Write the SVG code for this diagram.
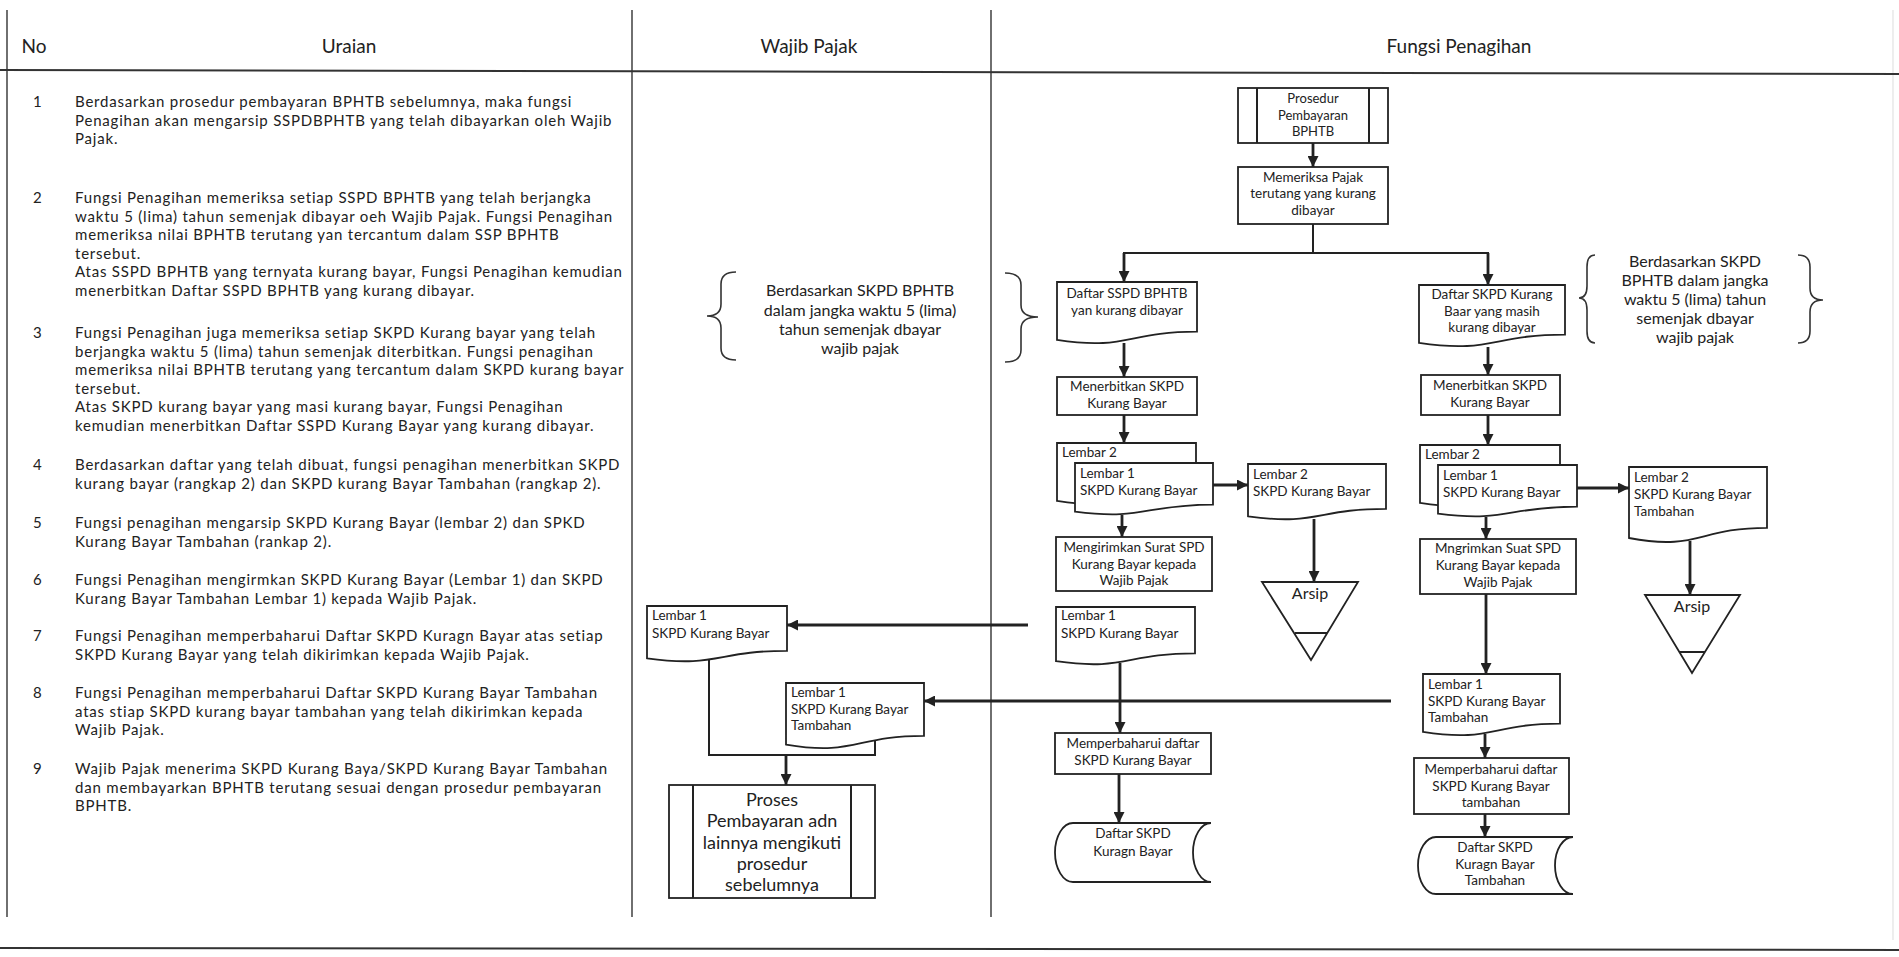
<svg xmlns="http://www.w3.org/2000/svg" width="1899" height="957" viewBox="0 0 1899 957">
<style>
.t{font-family:Lato,"Liberation Sans",sans-serif;fill:#222}
.u{font-size:15px;letter-spacing:0.8px}
.h{font-size:19px}
.n{font-size:13.5px}
.s{font-size:13px}
.b{font-size:16px}
.p{font-size:18px}
.c{text-anchor:middle}
.box{fill:#fff;stroke:#222;stroke-width:1.8}
.grid{stroke:#333;stroke-width:1.4;fill:none}
.arr{stroke:#222;stroke-width:2.8;fill:none;marker-end:url(#ah)}
.ln{stroke:#222;stroke-width:2;fill:none}
.br{stroke:#333;stroke-width:1.6;fill:none}
</style>
<defs>
<marker id="ah" viewBox="0 0 10 10" refX="10" refY="5" markerWidth="11" markerHeight="11" markerUnits="userSpaceOnUse" orient="auto"><path d="M0,0 L10,5 L0,10 z" fill="#222"/></marker>
</defs>
<rect width="1899" height="957" fill="#fff"/>
<g id="frame">
<line class="grid" x1="7" y1="10" x2="7" y2="917"/>
<line class="grid" x1="632" y1="10" x2="632" y2="917"/>
<line class="grid" x1="991" y1="10" x2="991" y2="917"/>
<line x1="1893" y1="10" x2="1893" y2="940" stroke="#e2e2e2" stroke-width="1.2"/>
<line x1="0" y1="70" x2="1899" y2="74" stroke="#333" stroke-width="2"/>
<line x1="0" y1="948" x2="1899" y2="950" stroke="#333" stroke-width="2"/>
</g>
<g id="header">
<text class="t h c" x="34" y="53">No</text>
<text class="t h c" x="349" y="53">Uraian</text>
<text class="t h c" x="809" y="53">Wajib Pajak</text>
<text class="t h c" x="1459" y="53">Fungsi Penagihan</text>
</g>
<g id="uraian" class="t u">
<text x="33" y="107">1</text>
<text x="75" y="107">Berdasarkan prosedur pembayaran BPHTB sebelumnya, maka fungsi</text>
<text x="75" y="125.5">Penagihan akan mengarsip SSPDBPHTB yang telah dibayarkan oleh Wajib</text>
<text x="75" y="144">Pajak.</text>
<text x="33" y="203">2</text>
<text x="75" y="203">Fungsi Penagihan memeriksa setiap SSPD BPHTB yang telah berjangka</text>
<text x="75" y="221.5">waktu 5 (lima) tahun semenjak dibayar oeh Wajib Pajak. Fungsi Penagihan</text>
<text x="75" y="240">memeriksa nilai BPHTB terutang yan tercantum dalam SSP BPHTB</text>
<text x="75" y="258.5">tersebut.</text>
<text x="75" y="277">Atas SSPD BPHTB yang ternyata kurang bayar, Fungsi Penagihan kemudian</text>
<text x="75" y="295.5">menerbitkan Daftar SSPD BPHTB  yang kurang dibayar.</text>
<text x="33" y="338">3</text>
<text x="75" y="338">Fungsi Penagihan juga memeriksa setiap SKPD Kurang bayar yang telah</text>
<text x="75" y="356.5">berjangka waktu 5 (lima) tahun semenjak diterbitkan. Fungsi penagihan</text>
<text x="75" y="375">memeriksa nilai BPHTB terutang yang tercantum dalam SKPD kurang bayar</text>
<text x="75" y="393.5">tersebut.</text>
<text x="75" y="412">Atas SKPD kurang bayar yang masi kurang bayar, Fungsi Penagihan</text>
<text x="75" y="430.5">kemudian menerbitkan Daftar SSPD Kurang Bayar yang kurang dibayar.</text>
<text x="33" y="470">4</text>
<text x="75" y="470">Berdasarkan daftar yang telah dibuat, fungsi penagihan menerbitkan SKPD</text>
<text x="75" y="488.5">kurang bayar (rangkap 2) dan SKPD kurang Bayar Tambahan (rangkap 2).</text>
<text x="33" y="528">5</text>
<text x="75" y="528">Fungsi penagihan mengarsip SKPD Kurang Bayar (lembar 2) dan SPKD</text>
<text x="75" y="546.5">Kurang Bayar Tambahan (rankap 2).</text>
<text x="33" y="585">6</text>
<text x="75" y="585">Fungsi Penagihan mengirmkan SKPD Kurang Bayar (Lembar 1) dan SKPD</text>
<text x="75" y="603.5">Kurang Bayar Tambahan Lembar 1) kepada Wajib Pajak.</text>
<text x="33" y="641">7</text>
<text x="75" y="641">Fungsi Penagihan memperbaharui Daftar SKPD Kuragn Bayar atas setiap</text>
<text x="75" y="659.5">SKPD Kurang Bayar yang telah dikirimkan kepada Wajib Pajak.</text>
<text x="33" y="698">8</text>
<text x="75" y="698">Fungsi Penagihan memperbaharui Daftar SKPD Kurang Bayar Tambahan</text>
<text x="75" y="716.5">atas stiap SKPD kurang bayar tambahan yang telah dikirimkan kepada</text>
<text x="75" y="735">Wajib Pajak.</text>
<text x="33" y="774">9</text>
<text x="75" y="774">Wajib Pajak menerima SKPD Kurang Baya/SKPD Kurang Bayar Tambahan</text>
<text x="75" y="792.5">dan membayarkan BPHTB terutang sesuai dengan prosedur pembayaran</text>
<text x="75" y="811">BPHTB.</text>
</g>
<g id="connectors">
<line class="arr" x1="1313" y1="143" x2="1313" y2="167"/>
<line class="ln" x1="1313" y1="224" x2="1313" y2="253" stroke-width="1.6"/>
<line class="ln" x1="1123" y1="253" x2="1489" y2="253" stroke-width="2.8"/>
<line class="arr" x1="1124" y1="253" x2="1124" y2="282"/>
<line class="arr" x1="1488" y1="253" x2="1488" y2="285"/>
<line class="arr" x1="1124" y1="343" x2="1124" y2="377"/>
<line class="arr" x1="1488" y1="347" x2="1488" y2="375"/>
<line class="arr" x1="1124" y1="415" x2="1124" y2="443"/>
<line class="arr" x1="1488" y1="415" x2="1488" y2="445"/>
<line class="arr" x1="1213" y1="485" x2="1248" y2="485"/>
<line class="arr" x1="1314" y1="519" x2="1314" y2="582"/>
<line class="arr" x1="1122" y1="515" x2="1122" y2="537"/>
<line class="arr" x1="1577" y1="488" x2="1629" y2="488"/>
<line class="arr" x1="1690" y1="541" x2="1690" y2="595"/>
<line class="arr" x1="1486" y1="517" x2="1486" y2="539"/>
<line class="arr" x1="1486" y1="594" x2="1486" y2="674"/>
<line class="arr" x1="1028" y1="625" x2="787" y2="625"/>
<line class="arr" x1="1391" y1="701" x2="924" y2="701"/>
<line class="arr" x1="1120" y1="663" x2="1120" y2="733"/>
<line class="arr" x1="1119" y1="774" x2="1119" y2="823"/>
<line class="arr" x1="1485" y1="734" x2="1485" y2="758"/>
<line class="arr" x1="1485" y1="814" x2="1485" y2="837"/>
<polyline class="ln" points="709,660 709,755 875,755 875,741"/>
<line class="arr" x1="786" y1="755" x2="786" y2="785"/>
</g>
<g id="n-prosedur">
<rect class="box" x="1238" y="88" width="150" height="55"/>
<line class="ln" x1="1257" y1="88" x2="1257" y2="143" stroke-width="1.8"/>
<line class="ln" x1="1369" y1="88" x2="1369" y2="143" stroke-width="1.8"/>
<text class="t s c" x="1313" y="103">Prosedur</text>
<text class="t s c" x="1313" y="120">Pembayaran</text>
<text class="t s c" x="1313" y="136">BPHTB</text>
</g>
<g id="n-memeriksa">
<rect class="box" x="1238" y="167" width="150" height="57"/>
<text class="t n c" x="1313" y="182">Memeriksa Pajak</text>
<text class="t n c" x="1313" y="198">terutang yang kurang</text>
<text class="t n c" x="1313" y="215">dibayar</text>
</g>
<g id="n-daftar-sspd">
<path class="box" d="M1057,282 H1197 V331.6 C1127,331.6 1127,350.7 1057,339.9 Z"/>
<text class="t n c" x="1127" y="298">Daftar SSPD BPHTB</text>
<text class="t n c" x="1127" y="315">yan kurang dibayar</text>
</g>
<g id="n-daftar-skpd">
<path class="box" d="M1419,285 H1565 V334.6 C1492,334.6 1492,353.7 1419,342.9 Z"/>
<text class="t n c" x="1492" y="299">Daftar SKPD Kurang</text>
<text class="t n c" x="1492" y="316">Baar yang masih</text>
<text class="t n c" x="1492" y="332">kurang dibayar</text>
</g>
<g id="n-brace-wp">
<path class="br" d="M736,272 Q721,272 721,284 L721,304 Q721,316 707,316 Q721,316 721,328 L721,348 Q721,360 736,360"/>
<path class="br" d="M1005,273 Q1021,273 1021,285 L1021,305 Q1021,317 1038,317 Q1021,317 1021,329 L1021,350 Q1021,362 1005,362"/>
<text class="t b c" x="860" y="296">Berdasarkan SKPD BPHTB</text>
<text class="t b c" x="860" y="315.5">dalam jangka waktu 5 (lima)</text>
<text class="t b c" x="860" y="335">tahun semenjak dbayar</text>
<text class="t b c" x="860" y="354">wajib pajak</text>
</g>
<g id="n-brace-fp">
<path class="br" d="M1595,255 Q1587,255 1587,267 L1587,286 Q1587,298 1579,298 Q1587,298 1587,310 L1587,331 Q1587,343 1595,343"/>
<path class="br" d="M1798,255 Q1810,255 1810,267 L1810,288 Q1810,300 1823,300 Q1810,300 1810,312 L1810,331 Q1810,343 1798,343"/>
<text class="t b c" x="1695" y="267">Berdasarkan SKPD</text>
<text class="t b c" x="1695" y="286">BPHTB dalam jangka</text>
<text class="t b c" x="1695" y="305">waktu 5 (lima) tahun</text>
<text class="t b c" x="1695" y="324">semenjak dbayar</text>
<text class="t b c" x="1695" y="343">wajib pajak</text>
</g>
<g id="n-menerbitkan-1">
<rect class="box" x="1057" y="377" width="140" height="38"/>
<text class="t n c" x="1127" y="391">Menerbitkan SKPD</text>
<text class="t n c" x="1127" y="408">Kurang Bayar</text>
</g>
<g id="n-menerbitkan-2">
<rect class="box" x="1421" y="375" width="139" height="40"/>
<text class="t n c" x="1490" y="390">Menerbitkan SKPD</text>
<text class="t n c" x="1490" y="407">Kurang Bayar</text>
</g>
<g id="n-lembar-kb">
<path class="box" d="M1057,443 H1196 V492.6 C1126.5,492.6 1126.5,511.7 1057,500.9 Z"/>
<text class="t n" x="1062" y="457">Lembar 2</text>
<path class="box" d="M1075,463 H1213 V504.6 C1144,504.6 1144,520.6 1075,511.6 Z"/>
<text class="t n" x="1080" y="478">Lembar 1</text>
<text class="t n" x="1080" y="495">SKPD Kurang Bayar</text>
</g>
<g id="n-lembar2-kb">
<path class="box" d="M1248,464 H1386 V508.8 C1317,508.8 1317,526 1248,516.3 Z"/>
<text class="t n" x="1253" y="479">Lembar 2</text>
<text class="t n" x="1253" y="496">SKPD Kurang Bayar</text>
</g>
<g id="n-arsip-1">
<path class="box" d="M1262,582 H1358 L1311,660 Z"/>
<line class="ln" x1="1295" y1="633" x2="1327" y2="633" stroke-width="1.6"/>
<text class="t b c" x="1310" y="599">Arsip</text>
</g>
<g id="n-mengirimkan">
<rect class="box" x="1056" y="537" width="156" height="54"/>
<text class="t n c" x="1134" y="552">Mengirimkan Surat SPD</text>
<text class="t n c" x="1134" y="569">Kurang Bayar kepada</text>
<text class="t n c" x="1134" y="585">Wajib Pajak</text>
</g>
<g id="n-lembar1-fp">
<path class="box" d="M1056,607 H1195 V653.4 C1125.5,653.4 1125.5,671.2 1056,661.2 Z"/>
<text class="t n" x="1061" y="620">Lembar 1</text>
<text class="t n" x="1061" y="638">SKPD Kurang Bayar</text>
</g>
<g id="n-lembar1-wp">
<path class="box" d="M647,606 H787 V650.8 C717,650.8 717,668 647,658.3 Z"/>
<text class="t n" x="652" y="620">Lembar 1</text>
<text class="t n" x="652" y="638">SKPD Kurang Bayar</text>
</g>
<g id="n-lembar1-tambahan-wp">
<path class="box" d="M786,683 H924 V735.8 C855,735.8 855,756.1 786,744.6 Z"/>
<text class="t n" x="791" y="697">Lembar 1</text>
<text class="t n" x="791" y="714">SKPD Kurang Bayar</text>
<text class="t n" x="791" y="730">Tambahan</text>
</g>
<g id="n-proses">
<rect class="box" x="669" y="785" width="206" height="113"/>
<line class="ln" x1="693" y1="785" x2="693" y2="898" stroke-width="1.8"/>
<line class="ln" x1="851" y1="785" x2="851" y2="898" stroke-width="1.8"/>
<text class="t p c" x="772" y="806">Proses</text>
<text class="t p c" x="772" y="827">Pembayaran adn</text>
<text class="t p c" x="772" y="849">lainnya mengikuti</text>
<text class="t p c" x="772" y="870">prosedur</text>
<text class="t p c" x="772" y="891">sebelumnya</text>
</g>
<g id="n-memperbaharui-1">
<rect class="box" x="1055" y="733" width="156" height="41"/>
<text class="t n c" x="1133" y="748">Memperbaharui daftar</text>
<text class="t n c" x="1133" y="765">SKPD Kurang Bayar</text>
</g>
<g id="n-daftar-kb">
<path class="box" d="M1073,823 A18,29.5 0 0 0 1073,882 L1211,882 A18,29.5 0 0 1 1211,823 Z"/>
<text class="t n c" x="1133" y="838">Daftar SKPD</text>
<text class="t n c" x="1133" y="856">Kuragn Bayar</text>
</g>
<g id="n-lembar-kbt">
<path class="box" d="M1420,445 H1560 V494.6 C1490,494.6 1490,513.7 1420,502.9 Z"/>
<text class="t n" x="1425" y="459">Lembar 2</text>
<path class="box" d="M1438,465 H1577 V506.6 C1507.5,506.6 1507.5,522.6 1438,513.6 Z"/>
<text class="t n" x="1443" y="480">Lembar 1</text>
<text class="t n" x="1443" y="497">SKPD Kurang Bayar</text>
</g>
<g id="n-lembar2-kbt">
<path class="box" d="M1629,467 H1767 V527.8 C1698,527.8 1698,551.2 1629,538 Z"/>
<text class="t n" x="1634" y="482">Lembar 2</text>
<text class="t n" x="1634" y="499">SKPD Kurang Bayar</text>
<text class="t n" x="1634" y="516">Tambahan</text>
</g>
<g id="n-arsip-2">
<path class="box" d="M1645,595 H1740 L1692,673 Z"/>
<line class="ln" x1="1679" y1="652" x2="1705" y2="652" stroke-width="1.6"/>
<text class="t b c" x="1692" y="612">Arsip</text>
</g>
<g id="n-mngrimkan">
<rect class="box" x="1420" y="539" width="156" height="55"/>
<text class="t n c" x="1498" y="553">Mngrimkan Suat SPD</text>
<text class="t n c" x="1498" y="570">Kurang Bayar kepada</text>
<text class="t n c" x="1498" y="587">Wajib Pajak</text>
</g>
<g id="n-lembar1-tambahan-fp">
<path class="box" d="M1423,674 H1560 V723.6 C1491.5,723.6 1491.5,742.7 1423,731.9 Z"/>
<text class="t n" x="1428" y="689">Lembar 1</text>
<text class="t n" x="1428" y="706">SKPD Kurang Bayar</text>
<text class="t n" x="1428" y="722">Tambahan</text>
</g>
<g id="n-memperbaharui-2">
<rect class="box" x="1414" y="758" width="155" height="56"/>
<text class="t n c" x="1491" y="774">Memperbaharui daftar</text>
<text class="t n c" x="1491" y="791">SKPD Kurang Bayar</text>
<text class="t n c" x="1491" y="807">tambahan</text>
</g>
<g id="n-daftar-kbt">
<path class="box" d="M1436,837 A18,28.5 0 0 0 1436,894 L1573,894 A18,28.5 0 0 1 1573,837 Z"/>
<text class="t n c" x="1495" y="852">Daftar SKPD</text>
<text class="t n c" x="1495" y="869">Kuragn Bayar</text>
<text class="t n c" x="1495" y="885">Tambahan</text>
</g>
</svg>
